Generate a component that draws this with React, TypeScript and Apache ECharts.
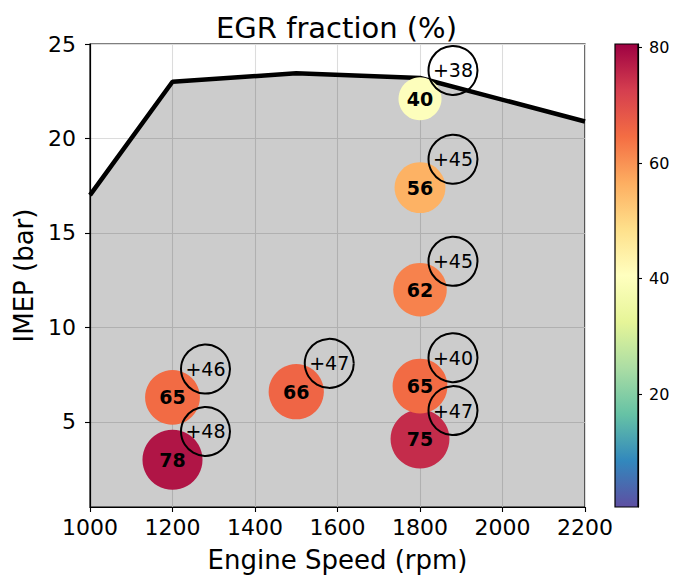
import React, { useEffect, useRef } from "react";
import * as echarts from "echarts";

// Operating points: engine speed (rpm), IMEP (bar), EGR fraction (%)
const speeds = [1200, 1200, 1500, 1800, 1800, 1800, 1800, 1800];
const imep = [3.0, 6.3, 6.6, 4.1, 6.9, 12.0, 17.4, 22.1];
const egr = [78, 65, 66, 75, 65, 62, 56, 40];
// Additional EGR that can be tolerated at each point (%)
const egrIncrease = [48, 46, 47, 47, 40, 45, 45, 38];

// Full-load limit curve
const limitSpeed = [1000, 1200, 1500, 1800, 2200];
const limitImep = [17.0, 23.0, 23.45, 23.2, 20.9];

// Axis ticks
const xTicks = [1000, 1200, 1400, 1600, 1800, 2000, 2200];
const yTicks = [5, 10, 15, 20, 25];
const cbarTicks = [20, 40, 60, 80];

// Colour scale range and Spectral_r colormap stops
const egrMin = 0.5;
const egrMax = 80.6;
const spectralR = [
  "#5e4fa2", "#3288bd", "#66c2a5", "#abdda4", "#e6f598", "#ffffbf",
  "#fee08b", "#fdae61", "#f46d43", "#d53e4f", "#9e0142",
];

const FONT = "DejaVu Sans";

export default function App() {
  const ref = useRef<HTMLDivElement>(null);

  useEffect(() => {
    if (!ref.current) return;
    const chart = echarts.init(ref.current, undefined, { renderer: "svg" });

    const bubbleData = speeds.map((s, i) => [s, imep[i], egr[i]]);
    // annotation rings sit up and to the right of each bubble
    const dx = 80;
    const dy = 1.5;
    const ringData = speeds.map((s, i) => [s + dx, imep[i] + dy, egrIncrease[i]]);
    const limitData = limitSpeed.map((s, i) => [s, limitImep[i]]);

    const gradient = new echarts.graphic.LinearGradient(
      0, 1, 0, 0,
      spectralR.map((c, i) => ({ offset: i / (spectralR.length - 1), color: c }))
    );

    chart.setOption({
      animation: false,
      backgroundColor: "#fff",
      textStyle: { fontFamily: FONT },
      title: {
        text: "EGR fraction (%)",
        left: "center",
        top: 8,
        textStyle: { fontFamily: FONT, fontSize: 29, fontWeight: "normal", color: "#000" },
      },
      grid: [
        {
          left: 90, top: 44, width: 495, height: 463,
          show: true, borderColor: "#000", borderWidth: 1.2,
          backgroundColor: "#fff",
        },
        {
          left: 615, top: 44, width: 23, height: 463,
          show: true, borderColor: "#000", borderWidth: 1.2,
          backgroundColor: gradient,
        },
      ],
      xAxis: [
        {
          type: "value", gridIndex: 0,
          min: 1000, max: 2200, interval: 200,
          name: "Engine Speed (rpm)",
          nameLocation: "middle", nameGap: 40,
          nameTextStyle: { fontFamily: FONT, fontSize: 26, color: "#000" },
          axisLine: { show: true, onZero: false, lineStyle: { color: "#000", width: 1.2 } },
          axisTick: { show: true, length: 5, lineStyle: { color: "#000", width: 1.1 } },
          axisLabel: {
            fontFamily: FONT, fontSize: 22, color: "#000", margin: 9,
            customValues: xTicks,
            formatter: (v: number) => String(v),
          },
          splitLine: { show: true, lineStyle: { color: "#dcdcdc", width: 1.1 } },
        },
        {
          type: "category", gridIndex: 1, data: ["egr"],
          show: false,
        },
      ],
      yAxis: [
        {
          type: "value", gridIndex: 0,
          min: 0.5, max: 25, splitNumber: 5,
          name: "IMEP (bar)",
          nameLocation: "middle", nameGap: 52,
          nameTextStyle: { fontFamily: FONT, fontSize: 26, color: "#000" },
          axisLine: { show: true, onZero: false, lineStyle: { color: "#000", width: 1.2 } },
          axisTick: { show: true, length: 5, customValues: yTicks, lineStyle: { color: "#000", width: 1.1 } },
          axisLabel: {
            fontFamily: FONT, fontSize: 22, color: "#000", margin: 14,
            customValues: yTicks,
            formatter: (v: number) => String(v),
          },
          splitLine: { show: true, lineStyle: { color: "#dcdcdc", width: 1.1 } },
        },
        {
          type: "value", gridIndex: 1, position: "right",
          min: egrMin, max: egrMax,
          axisLine: { show: true, lineStyle: { color: "#000", width: 1.2 } },
          axisTick: { show: true, length: 4, customValues: cbarTicks, lineStyle: { color: "#000", width: 1.1 } },
          axisLabel: {
            fontFamily: FONT, fontSize: 16, color: "#000", margin: 11,
            customValues: cbarTicks,
          },
          splitLine: { show: false },
        },
      ],
      visualMap: {
        type: "continuous",
        show: false,
        min: egrMin,
        max: egrMax,
        dimension: 2,
        seriesIndex: 1,
        inRange: { color: spectralR },
      },
      series: [
        {
          type: "line",
          xAxisIndex: 0, yAxisIndex: 0,
          data: limitData,
          symbol: "none",
          lineStyle: { color: "#000", width: 4.5 },
          areaStyle: { color: "rgba(0,0,0,0.2)", opacity: 1, origin: "start" },
          silent: true,
          z: 2,
        },
        {
          type: "scatter",
          xAxisIndex: 0, yAxisIndex: 0,
          data: bubbleData,
          symbol: "circle",
          symbolSize: (d: number[]) => 6.8 * Math.sqrt(d[2]),
          itemStyle: { opacity: 1 },
          label: {
            show: true,
            position: "inside",
            formatter: (p: any) => String(p.value[2]),
            fontFamily: FONT, fontSize: 19, fontWeight: "bold", color: "#000",
          },
          silent: true,
          z: 3,
        },
        {
          type: "scatter",
          xAxisIndex: 0, yAxisIndex: 0,
          data: ringData,
          symbol: "circle",
          symbolSize: 49,
          itemStyle: { color: "rgba(0,0,0,0)", borderColor: "#000", borderWidth: 2, opacity: 1 },
          label: {
            show: true,
            position: "inside",
            formatter: (p: any) => "+" + p.value[2],
            fontFamily: FONT, fontSize: 19, color: "#000",
          },
          silent: true,
          z: 4,
        },
      ],
    });

    return () => chart.dispose();
  }, []);

  return (
    <div
      ref={ref}
      style={{ position: "absolute", left: 0, top: 0, width: 673, height: 579 }}
    />
  );
}
